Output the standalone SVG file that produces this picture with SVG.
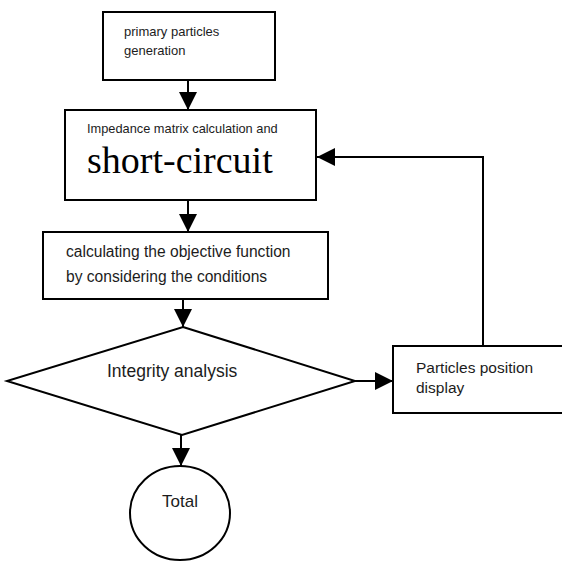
<svg xmlns="http://www.w3.org/2000/svg" width="562" height="561" viewBox="0 0 562 561">
<defs>
<marker id="ah" markerUnits="userSpaceOnUse" markerWidth="18" markerHeight="18" viewBox="0 0 18 18" refX="18" refY="9" orient="auto">
<path d="M0,0 L18,9 L0,18 Z" fill="#000"/>
</marker>
<style>
.box{fill:#fff;stroke:#000;stroke-width:2}
.ln{fill:none;stroke:#000;stroke-width:2}
.t{font-family:"Liberation Sans",Arial,sans-serif;fill:#1c1c1c}
.s{font-family:"Liberation Serif","Times New Roman",serif;fill:#000}
</style>
</defs>
<rect width="562" height="561" fill="#fff"/>
<g id="connectors">
<line class="ln" x1="188" y1="80" x2="188" y2="110" marker-end="url(#ah)"/>
<line class="ln" x1="188" y1="200" x2="188" y2="232" marker-end="url(#ah)"/>
<line class="ln" x1="183" y1="299" x2="183" y2="327" marker-end="url(#ah)"/>
<line class="ln" x1="355" y1="381" x2="393" y2="381" marker-end="url(#ah)"/>
<polyline class="ln" points="483,346 483,157 317,157" marker-end="url(#ah)"/>
<line class="ln" x1="181" y1="435" x2="181" y2="466" marker-end="url(#ah)"/>
</g>
<g id="node1">
<rect class="box" x="103" y="12" width="172" height="68"/>
<text class="t" font-size="13" x="124" y="36">primary particles</text>
<text class="t" font-size="13" x="124" y="55">generation</text>
</g>
<g id="node2">
<rect class="box" x="65" y="110" width="251" height="90"/>
<text class="t" font-size="12.8" x="87" y="133">Impedance matrix calculation and</text>
<text class="s" font-size="38" x="87" y="173">short-circuit</text>
</g>
<g id="node3">
<rect class="box" x="43" y="232" width="285" height="67"/>
<text class="t" font-size="15.6" x="66" y="257">calculating the objective function</text>
<text class="t" font-size="15.6" x="66" y="282">by considering the conditions</text>
</g>
<g id="node4">
<polygon class="box" points="183,327 355,381 182,435 7,381"/>
<text class="t" font-size="17.5" x="107" y="377">Integrity analysis</text>
</g>
<g id="node5">
<rect class="box" x="393" y="346" width="175" height="67"/>
<text class="t" font-size="15.5" x="416" y="373">Particles position</text>
<text class="t" font-size="15.5" x="416" y="393">display</text>
</g>
<g id="node6">
<ellipse class="box" cx="180" cy="513" rx="50" ry="47"/>
<text class="t" font-size="17" x="162" y="507">Total</text>
</g>
</svg>
